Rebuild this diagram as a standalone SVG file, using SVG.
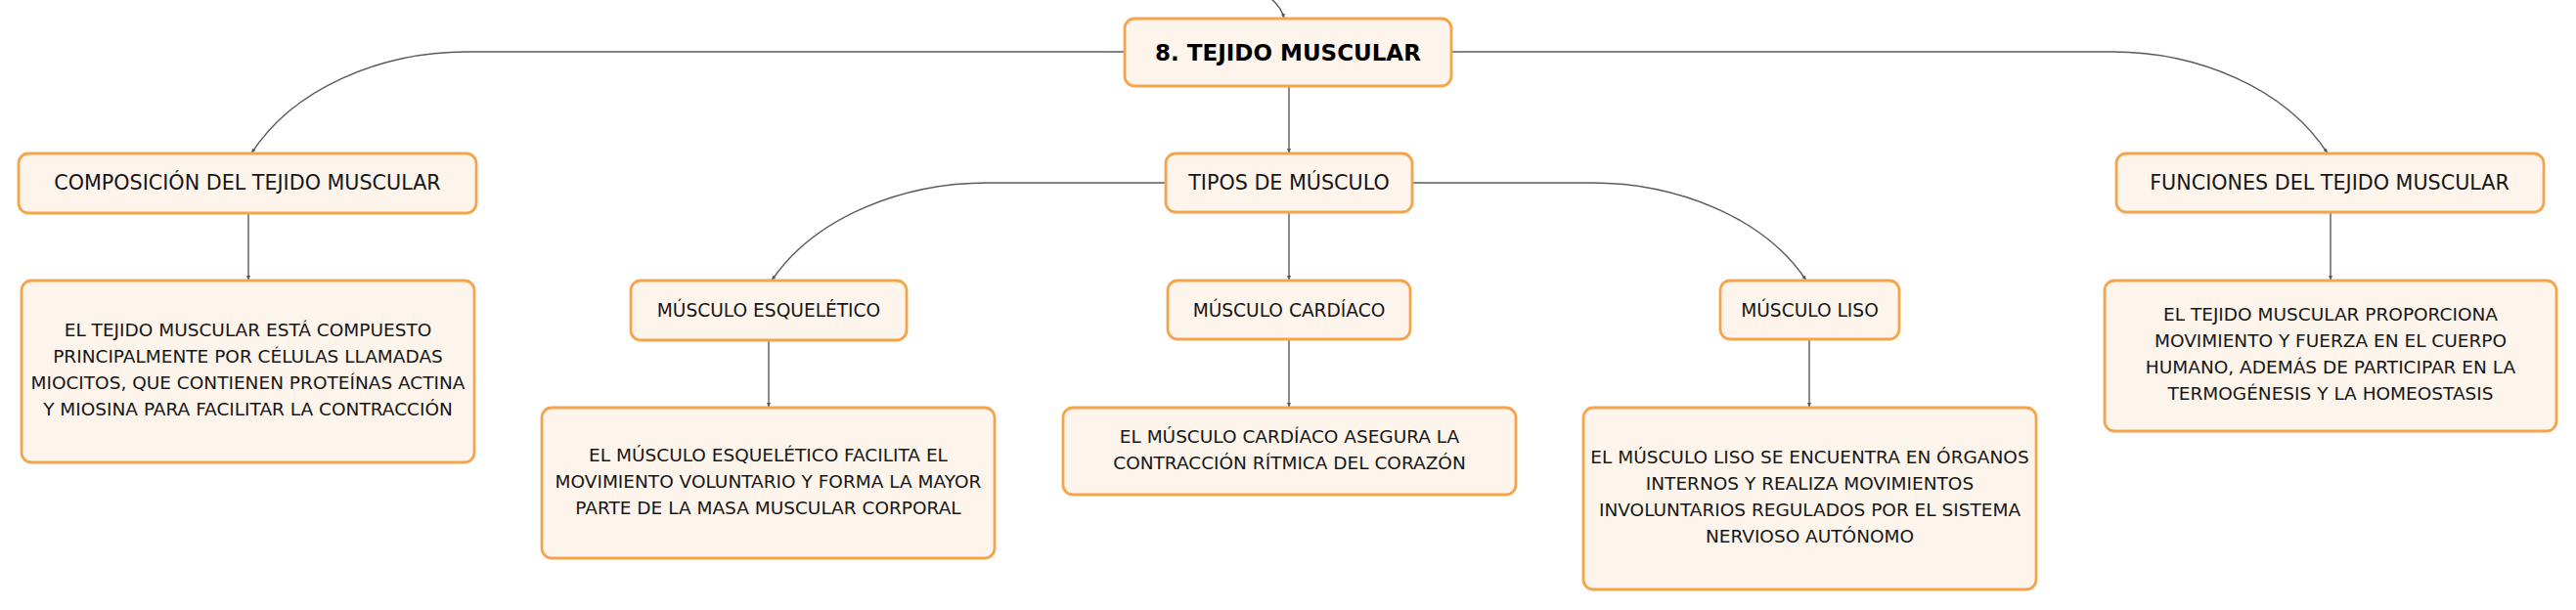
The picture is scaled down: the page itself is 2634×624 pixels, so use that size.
<svg xmlns="http://www.w3.org/2000/svg" width="2634" height="624" viewBox="0 0 2634 624">
<style>
.box{fill:#FDF4EB;stroke:#F4A44D;stroke-width:2.8}
.lbl{font-family:"DejaVu Sans","Liberation Sans",sans-serif;font-size:20.7px;fill:#161616;text-anchor:middle}
.lbl2{font-family:"DejaVu Sans","Liberation Sans",sans-serif;font-size:18.6px;fill:#161616;text-anchor:middle}
.root{font-family:"DejaVu Sans","Liberation Sans",sans-serif;font-size:23px;font-weight:bold;fill:#000;text-anchor:middle}
.desc{font-family:"DejaVu Sans","Liberation Sans",sans-serif;font-size:18.5px;fill:#161616;text-anchor:middle}
.edge{fill:none;stroke:#5a5a5a;stroke-width:1.4}
</style>
<defs>
<marker id="arr" markerUnits="userSpaceOnUse" markerWidth="7" markerHeight="7" viewBox="0 0 7 7" refX="6" refY="3.5" orient="auto">
<path d="M1,1.5 L6,3.5 L1,5.5 Z" fill="#5a5a5a"/>
</marker>
</defs>
<rect width="2634" height="624" fill="#ffffff"/>
<g id="connectors">
<path class="edge" d="M1300,-1 C1306,4 1311,10 1313,19" marker-end="url(#arr)"/>
<path class="edge" d="M1318,88 V157" marker-end="url(#arr)"/>
<path class="edge" d="M1150,53 H477 C390,53 300,90 257,157" marker-end="url(#arr)"/>
<path class="edge" d="M1484,53 H2160 C2247,53 2337,90 2380,157" marker-end="url(#arr)"/>
<path class="edge" d="M1192,187 H1010 C923,187 833,222 789,287" marker-end="url(#arr)"/>
<path class="edge" d="M1318,217 V287" marker-end="url(#arr)"/>
<path class="edge" d="M1444,187 H1627 C1714,187 1804,222 1847,287" marker-end="url(#arr)"/>
<path class="edge" d="M254,218 V287" marker-end="url(#arr)"/>
<path class="edge" d="M786,348 V417" marker-end="url(#arr)"/>
<path class="edge" d="M1318,347 V417" marker-end="url(#arr)"/>
<path class="edge" d="M1850,347 V417" marker-end="url(#arr)"/>
<path class="edge" d="M2383,217 V287" marker-end="url(#arr)"/>
</g>
<g id="root">
<rect class="box" x="1150" y="19" width="334" height="69" rx="10"/>
<text class="root" x="1317" y="62">8. TEJIDO MUSCULAR</text>
</g>
<g id="composicion">
<rect class="box" x="19" y="157" width="468" height="61" rx="10"/>
<text class="lbl" x="253" y="194">COMPOSICIÓN DEL TEJIDO MUSCULAR</text>
</g>
<g id="tipos">
<rect class="box" x="1192" y="157" width="252" height="60" rx="10"/>
<text class="lbl" x="1318" y="194">TIPOS DE MÚSCULO</text>
</g>
<g id="funciones">
<rect class="box" x="2164" y="157" width="437" height="60" rx="10"/>
<text class="lbl" x="2382" y="194">FUNCIONES DEL TEJIDO MUSCULAR</text>
</g>
<g id="esqueletico">
<rect class="box" x="645" y="287" width="282" height="61" rx="10"/>
<text class="lbl2" x="786" y="324">MÚSCULO ESQUELÉTICO</text>
</g>
<g id="cardiaco">
<rect class="box" x="1194" y="287" width="248" height="60" rx="10"/>
<text class="lbl2" x="1318" y="324">MÚSCULO CARDÍACO</text>
</g>
<g id="liso">
<rect class="box" x="1759" y="287" width="183" height="60" rx="10"/>
<text class="lbl2" x="1850.5" y="324">MÚSCULO LISO</text>
</g>
<g id="desc-composicion">
<rect class="box" x="22" y="287" width="463" height="186" rx="10"/>
<text class="desc" x="253.5" y="344">EL TEJIDO MUSCULAR ESTÁ COMPUESTO</text>
<text class="desc" x="253.5" y="371">PRINCIPALMENTE POR CÉLULAS LLAMADAS</text>
<text class="desc" x="253.5" y="398">MIOCITOS, QUE CONTIENEN PROTEÍNAS ACTINA</text>
<text class="desc" x="253.5" y="425">Y MIOSINA PARA FACILITAR LA CONTRACCIÓN</text>
</g>
<g id="desc-esqueletico">
<rect class="box" x="554" y="417" width="463" height="154" rx="10"/>
<text class="desc" x="785.5" y="472">EL MÚSCULO ESQUELÉTICO FACILITA EL</text>
<text class="desc" x="785.5" y="499">MOVIMIENTO VOLUNTARIO Y FORMA LA MAYOR</text>
<text class="desc" x="785.5" y="526">PARTE DE LA MASA MUSCULAR CORPORAL</text>
</g>
<g id="desc-cardiaco">
<rect class="box" x="1087" y="417" width="463" height="89" rx="10"/>
<text class="desc" x="1318.5" y="453">EL MÚSCULO CARDÍACO ASEGURA LA</text>
<text class="desc" x="1318.5" y="480">CONTRACCIÓN RÍTMICA DEL CORAZÓN</text>
</g>
<g id="desc-liso">
<rect class="box" x="1619" y="417" width="463" height="186" rx="10"/>
<text class="desc" x="1850.5" y="474">EL MÚSCULO LISO SE ENCUENTRA EN ÓRGANOS</text>
<text class="desc" x="1850.5" y="501">INTERNOS Y REALIZA MOVIMIENTOS</text>
<text class="desc" x="1850.5" y="528">INVOLUNTARIOS REGULADOS POR EL SISTEMA</text>
<text class="desc" x="1850.5" y="555">NERVIOSO AUTÓNOMO</text>
</g>
<g id="desc-funciones">
<rect class="box" x="2152" y="287" width="462" height="154" rx="10"/>
<text class="desc" x="2383" y="328">EL TEJIDO MUSCULAR PROPORCIONA</text>
<text class="desc" x="2383" y="355">MOVIMIENTO Y FUERZA EN EL CUERPO</text>
<text class="desc" x="2383" y="382">HUMANO, ADEMÁS DE PARTICIPAR EN LA</text>
<text class="desc" x="2383" y="409">TERMOGÉNESIS Y LA HOMEOSTASIS</text>
</g>
</svg>
